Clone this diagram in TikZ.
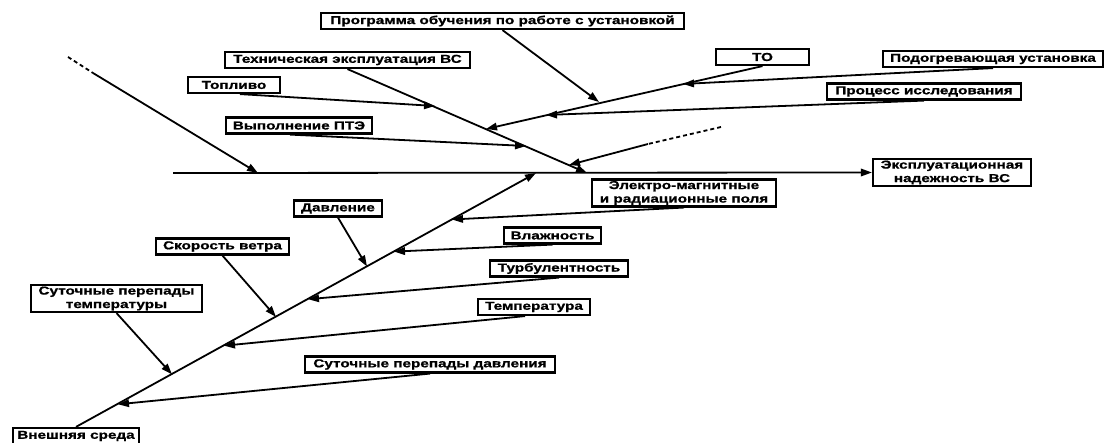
\documentclass[tikz,border=0pt]{standalone}
\usepackage{fontspec}
\newfontfamily\lblfont{Liberation Sans Bold}[FakeStretch=1.33, FakeBold=1]
\usetikzlibrary{arrows.meta,positioning,calc}
\tikzset{
  lbl/.style={draw, line width=2.2pt, font=\lblfont\fontsize{11.5}{13.5}\selectfont,
              inner xsep=2pt, inner ysep=1.5pt, minimum height=16pt, align=center},
  bone/.style={line width=1.8pt, -{Triangle[length=11pt,width=7.5pt]}},
  stub/.style={line width=1.8pt, dash pattern=on 4pt off 3pt}
}

\begin{document}
\begin{tikzpicture}[x=1pt,y=-1pt]
  \useasboundingbox (0,0) rectangle (1104,443);
  % boxes
  \foreach \n/\x/\y/\w/\t in {prog/502.5/21/363/Программа обучения по работе с установкой,
                              tech/347.5/60/245/Техническая эксплуатация ВС,
                              fuel/234/85/92/Топливо,
                              pte/299/125.5/146/Выполнение ПТЭ,
                              to/762.5/57/93/ТО,
                              heat/993/59/220/Подогревающая установка,
                              research/924/91.5/194/Процесс исследования,
                              result/952/172.5/158/{Эксплуатационная\\надежность ВС},
                              emf/684/193/184/{Электро-магнитные\\и радиационные поля},
                              press/338/208.5/88/Давление,
                              wind/222.5/246.5/133/Скорость ветра,
                              dtemp/116.5/298.5/171/{Суточные перепады\\температуры},
                              hum/552.5/235.5/97/Влажность,
                              turb/559/268.5/138/Турбулентность,
                              temp/534/307/112/Температура,
                              dpress/430/364.5/250/Суточные перепады давления,
                              env/76/436/126/Внешняя среда}
    \node[lbl, minimum width=\w pt] (\n) at (\x,\y) {\t};

  % points on the spine and the bones
  \coordinate (s1) at (258,173);  \coordinate (s2) at (587,173);  \coordinate (s3) at (536,173);
  \coordinate (t1) at (435,106);  \coordinate (t2) at (526,146);
  \coordinate (t3) at (486,129);  \coordinate (t4) at (569,165);
  \coordinate (o1) at (599,102);  \coordinate (o2) at (683,84);   \coordinate (o3) at (546,115);
  \coordinate (b1) at (452,219.5); \coordinate (b2) at (367,266.5); \coordinate (b3) at (394,251.6);
  \coordinate (b4) at (276,316.9); \coordinate (b5) at (308,299.2); \coordinate (b6) at (172,374.4);
  \coordinate (b7) at (224,345.7); \coordinate (b8) at (118,404.3);
  \coordinate (d1) at (68,57);    \coordinate (d2) at (93,73);
  \coordinate (d3) at (721,127);  \coordinate (d4) at (648,144);
  \coordinate (sp) at (173,173);

  % spine
  \draw[bone] (sp) -- (result.west);
  \draw[stub] (d1) -- (d2);  \draw[bone] (d2) -- (s1);
  \draw[bone] (tech.south) -- (s2);
  \draw[bone] (env.north) -- (s3);

  % upper causes
  \draw[bone] ([xshift=6pt]fuel.south) -- (t1);
  \draw[bone] ([xshift=-9pt]pte.south) -- (t2);
  \draw[bone] (to.south) -- (t3);
  \draw[stub] (d3) -- (d4);  \draw[bone] (d4) -- (t4);
  \foreach \a/\b in {prog/o1, heat/o2, research/o3}
    \draw[bone] (\a.south) -- (\b);

  % lower causes
  \foreach \a/\b in {emf/b1, press/b2, hum/b3, wind/b4, turb/b5, dtemp/b6, dpress/b8}
    \draw[bone] (\a.south) -- (\b);
  \draw[bone] ([xshift=-9pt]temp.south) -- (b7);
\end{tikzpicture}
\end{document}
